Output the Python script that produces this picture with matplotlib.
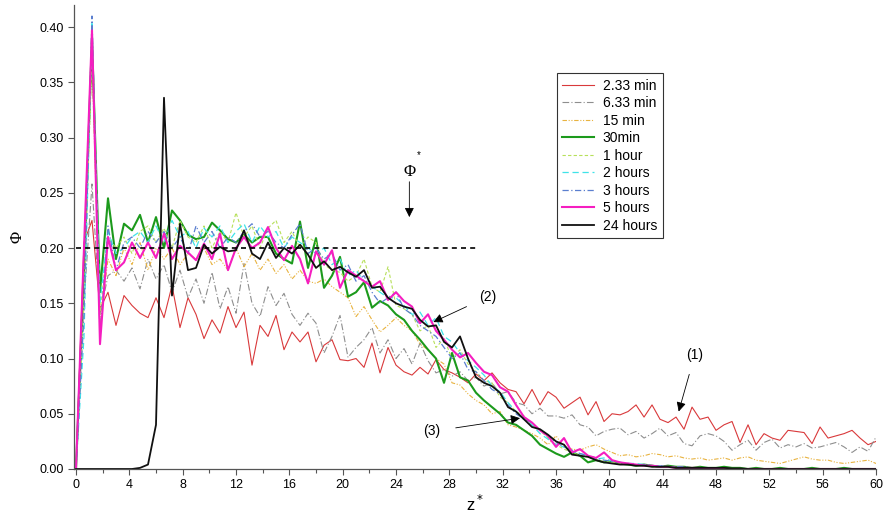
import numpy as np
import matplotlib
matplotlib.use('Agg')
import matplotlib.pyplot as plt
from matplotlib.ticker import MultipleLocator, FormatStrFormatter

plt.rcParams['font.family'] = ['Liberation Sans', 'DejaVu Sans']

# z* grid, step 0.6
z = np.linspace(0, 60, 101)

red = [0, 0.205, 0.225, 0.145, 0.16, 0.13, 0.157, 0.148, 0.141, 0.137,
       0.155, 0.137, 0.166, 0.128, 0.155, 0.14, 0.118, 0.135, 0.123, 0.147,
       0.128, 0.142, 0.094, 0.13, 0.12, 0.139, 0.108, 0.124, 0.115, 0.124,
       0.097, 0.112, 0.117, 0.099, 0.098, 0.1, 0.092, 0.114, 0.087, 0.11,
       0.094, 0.088, 0.085, 0.092, 0.086, 0.099, 0.09, 0.087, 0.083, 0.078,
       0.086, 0.08, 0.087, 0.078, 0.072, 0.07, 0.059, 0.072, 0.058, 0.07,
       0.065, 0.055, 0.06, 0.065, 0.049, 0.061, 0.043, 0.05, 0.049, 0.052,
       0.058, 0.047, 0.058, 0.045, 0.042, 0.047, 0.036, 0.056, 0.045, 0.047,
       0.035, 0.04, 0.043, 0.024, 0.04, 0.022, 0.032, 0.028, 0.026, 0.035,
       0.034, 0.033, 0.023, 0.038, 0.028, 0.03, 0.032, 0.035, 0.028, 0.022,
       0.025]

gray = [0, 0.15, 0.258, 0.14, 0.175, 0.18, 0.17, 0.182, 0.163, 0.19,
        0.172, 0.185, 0.16, 0.18, 0.155, 0.172, 0.15, 0.178, 0.145, 0.165,
        0.141, 0.186, 0.15, 0.138, 0.165, 0.148, 0.159, 0.14, 0.13, 0.141,
        0.132, 0.105, 0.12, 0.139, 0.101, 0.11, 0.117, 0.128, 0.105, 0.117,
        0.1, 0.109, 0.095, 0.114, 0.098, 0.087, 0.09, 0.084, 0.088, 0.08,
        0.083, 0.075, 0.078, 0.068, 0.07, 0.06, 0.058, 0.05, 0.055, 0.048,
        0.048, 0.046, 0.049, 0.04, 0.038, 0.03, 0.034, 0.036, 0.037, 0.031,
        0.034, 0.028, 0.032, 0.037, 0.03, 0.033, 0.023, 0.021, 0.03, 0.032,
        0.03, 0.025, 0.017, 0.022, 0.026, 0.017, 0.024, 0.027, 0.019, 0.022,
        0.02, 0.023, 0.019, 0.02, 0.022, 0.024, 0.02, 0.015, 0.02, 0.016,
        0.029]

orange = [0, 0.17, 0.37, 0.13, 0.19, 0.175, 0.2, 0.185, 0.205, 0.18,
          0.2, 0.19, 0.2, 0.185, 0.195, 0.19, 0.2, 0.185, 0.19, 0.18,
          0.2, 0.183, 0.195, 0.18, 0.19, 0.177, 0.185, 0.172, 0.18, 0.17,
          0.168, 0.172, 0.165, 0.16, 0.155, 0.138, 0.147, 0.135, 0.124, 0.13,
          0.137, 0.13, 0.125, 0.113, 0.108, 0.1, 0.095, 0.078, 0.076, 0.068,
          0.062, 0.058, 0.05, 0.052, 0.04, 0.038, 0.035, 0.032, 0.028, 0.022,
          0.03, 0.02, 0.018, 0.017, 0.02, 0.022, 0.018, 0.015, 0.012, 0.013,
          0.011, 0.012, 0.014, 0.013, 0.011, 0.012, 0.01, 0.009, 0.01, 0.008,
          0.009, 0.01, 0.008, 0.01, 0.011, 0.008, 0.007, 0.006, 0.005, 0.007,
          0.009, 0.011, 0.009, 0.008, 0.008, 0.006, 0.005, 0.006, 0.007, 0.008,
          0.005]

green = [0, 0.18, 0.39, 0.16, 0.245, 0.19, 0.222, 0.216, 0.23, 0.205,
         0.228, 0.2, 0.234, 0.225, 0.212, 0.208, 0.21, 0.223, 0.216, 0.208,
         0.205, 0.212, 0.205, 0.21, 0.21, 0.195, 0.19, 0.186, 0.224, 0.182,
         0.209, 0.164, 0.175, 0.192, 0.156, 0.16, 0.169, 0.146, 0.152, 0.148,
         0.14, 0.135, 0.125, 0.117, 0.108, 0.1, 0.078, 0.105, 0.083, 0.08,
         0.069, 0.062, 0.056, 0.05, 0.042, 0.04, 0.035, 0.03, 0.022, 0.018,
         0.014, 0.011, 0.015, 0.012, 0.006, 0.008, 0.006, 0.007, 0.005, 0.004,
         0.003, 0.004, 0.003, 0.002, 0.003, 0.002, 0.002, 0.001, 0.002, 0.001,
         0.001, 0.002, 0.001, 0.001, 0, 0.001, 0, 0, 0.001, 0,
         0, 0, 0.001, 0, 0, 0, 0.001, 0, 0, 0,
         0]

hour1 = [0, 0.15, 0.38, 0.14, 0.21, 0.2, 0.21, 0.195, 0.215, 0.22,
         0.205, 0.218, 0.2, 0.225, 0.21, 0.205, 0.22, 0.2, 0.215, 0.205,
         0.232, 0.21, 0.22, 0.2, 0.218, 0.225, 0.205, 0.215, 0.2, 0.21,
         0.205, 0.185, 0.18, 0.178, 0.17, 0.175, 0.19, 0.165, 0.16, 0.183,
         0.148, 0.145, 0.14, 0.125, 0.13, 0.11, 0.118, 0.1, 0.108, 0.095,
         0.088, 0.08, 0.078, 0.065, 0.06, 0.052, 0.048, 0.04, 0.035, 0.028,
         0.022, 0.018, 0.015, 0.012, 0.011, 0.008, 0.007, 0.006, 0.005, 0.004,
         0.003, 0.003, 0.002, 0.002, 0.002, 0.001, 0.001, 0.001, 0.001, 0.001,
         0, 0, 0, 0, 0, 0, 0, 0, 0, 0,
         0, 0, 0, 0, 0, 0, 0, 0, 0, 0,
         0]

hour2 = [0, 0.12, 0.405, 0.15, 0.215, 0.195, 0.2, 0.21, 0.215, 0.205,
         0.22, 0.205, 0.225, 0.21, 0.215, 0.2, 0.218, 0.21, 0.22, 0.205,
         0.215, 0.222, 0.205, 0.22, 0.21, 0.215, 0.2, 0.21, 0.205, 0.2,
         0.195, 0.2, 0.185, 0.19, 0.175, 0.18, 0.17, 0.165, 0.16, 0.155,
         0.155, 0.148, 0.14, 0.142, 0.13, 0.137, 0.12, 0.115, 0.105, 0.098,
         0.092, 0.085, 0.075, 0.07, 0.06, 0.052, 0.045, 0.04, 0.032, 0.027,
         0.022, 0.02, 0.016, 0.014, 0.012, 0.009, 0.01, 0.007, 0.006, 0.005,
         0.005, 0.004, 0.003, 0.003, 0.002, 0.002, 0.001, 0.001, 0.001, 0.001,
         0, 0, 0, 0, 0, 0, 0, 0, 0, 0,
         0, 0, 0, 0, 0, 0, 0, 0, 0, 0,
         0]

hour3 = [0, 0.14, 0.41, 0.12, 0.22, 0.18, 0.205, 0.21, 0.2, 0.215,
         0.205, 0.215, 0.2, 0.21, 0.195, 0.22, 0.205, 0.215, 0.2, 0.21,
         0.205, 0.215, 0.222, 0.21, 0.215, 0.205, 0.2, 0.212, 0.222, 0.195,
         0.2, 0.19, 0.195, 0.18, 0.185, 0.17, 0.175, 0.16, 0.15, 0.155,
         0.16, 0.145, 0.14, 0.13, 0.125, 0.12, 0.11, 0.1, 0.105, 0.09,
         0.088, 0.08, 0.072, 0.068, 0.058, 0.05, 0.045, 0.042, 0.035, 0.03,
         0.024, 0.02, 0.017, 0.014, 0.012, 0.01, 0.008, 0.007, 0.006, 0.005,
         0.004, 0.004, 0.003, 0.003, 0.002, 0.002, 0.002, 0.001, 0.001, 0.001,
         0, 0, 0, 0, 0, 0, 0, 0, 0, 0,
         0, 0, 0, 0, 0, 0, 0, 0, 0, 0,
         0]

hour5 = [0, 0.2, 0.397, 0.113, 0.21, 0.18, 0.187, 0.205, 0.191, 0.205,
         0.191, 0.213, 0.19, 0.202, 0.196, 0.189, 0.204, 0.19, 0.213, 0.18,
         0.2, 0.21, 0.2, 0.205, 0.219, 0.2, 0.189, 0.202, 0.19, 0.168,
         0.197, 0.185, 0.198, 0.164, 0.18, 0.175, 0.17, 0.165, 0.17, 0.153,
         0.16, 0.152, 0.147, 0.132, 0.14, 0.125, 0.117, 0.108, 0.101, 0.105,
         0.096, 0.088, 0.085, 0.074, 0.07, 0.058, 0.047, 0.042, 0.035, 0.03,
         0.02, 0.028, 0.015, 0.018, 0.012, 0.01, 0.015, 0.008, 0.006, 0.005,
         0.004, 0.003, 0.003, 0.002, 0.002, 0.001, 0.001, 0.001, 0.001, 0,
         0, 0, 0, 0, 0, 0, 0, 0, 0, 0,
         0, 0, 0, 0, 0, 0, 0, 0, 0, 0,
         0]

hour24 = [0, 0, 0, 0, 0, 0, 0, 0, 0.001, 0.004,
          0.04, 0.336, 0.157, 0.222, 0.18, 0.182, 0.203, 0.195, 0.201, 0.197,
          0.198, 0.216, 0.195, 0.19, 0.205, 0.191, 0.2, 0.195, 0.203, 0.194,
          0.182, 0.188, 0.18, 0.183, 0.178, 0.174, 0.18, 0.164, 0.165, 0.155,
          0.15, 0.147, 0.145, 0.135, 0.129, 0.13, 0.115, 0.11, 0.12, 0.1,
          0.083, 0.078, 0.075, 0.069, 0.056, 0.052, 0.045, 0.038, 0.036, 0.031,
          0.025, 0.022, 0.013, 0.012, 0.011, 0.008, 0.006, 0.005, 0.004, 0.004,
          0.003, 0.003, 0.002, 0.002, 0.002, 0.001, 0.001, 0.001, 0.001, 0.001,
          0.001, 0.001, 0.0005, 0.0005, 0, 0, 0, 0, 0, 0,
          0, 0, 0, 0, 0, 0, 0, 0, 0, 0,
          0]

labels = ['2.33 min', '6.33 min', '15 min', '30min', '1 hour',
          '2 hours', '3 hours', '5 hours', '24 hours']
series = [red, gray, orange, green, hour1, hour2, hour3, hour5, hour24]
colors = ['#d9393b', '#8e8e8e', '#e8b340', '#1c9a1c', '#b7e05a',
          '#3fe3e8', '#5b7fcf', '#f51ec0', '#111111']
styles = ['-', (0, (6, 2, 1, 2)), (0, (4, 1.5, 1, 1.5, 1, 1.5)), '-',
          (0, (3, 2)), (0, (5, 3)), (0, (5, 2, 1, 2)), '-', '-']
widths = [0.8, 0.8, 0.8, 1.5, 0.8, 0.9, 0.9, 1.5, 1.3]

fig = plt.figure(figsize=(8.84, 5.18), dpi=100)
ax = fig.add_axes([0.0837, 0.0946, 0.9073, 0.8958])

for y, lab, c, ls, lw in zip(series, labels, colors, styles, widths):
    ax.plot(z, y, color=c, linestyle=ls, linewidth=lw, label=lab)

# critical concentration
ax.plot([0, 30], [0.2, 0.2], color='black', linestyle=(0, (3, 2.5)), linewidth=1.2)

ax.set_xlim(-0.15, 60)
ax.set_ylim(0, 0.42)
ax.xaxis.set_major_locator(MultipleLocator(4))
ax.xaxis.set_minor_locator(MultipleLocator(2))
ax.yaxis.set_major_locator(MultipleLocator(0.05))
ax.yaxis.set_major_formatter(FormatStrFormatter('%.2f'))
ax.tick_params(axis='both', which='major', direction='out', length=4,
               width=0.8, color='#555555', labelsize=9)
ax.tick_params(axis='x', which='minor', direction='out', length=3,
               width=0.8, color='#555555')
for s in ['top', 'right']:
    ax.spines[s].set_visible(False)
for s in ['left', 'bottom']:
    ax.spines[s].set_color('#555555')
    ax.spines[s].set_linewidth(0.9)

ax.set_xlabel(r'z$^*$', fontsize=12, labelpad=2)
ax.set_ylabel('Φ', fontsize=12, family=['Liberation Serif', 'DejaVu Serif'], labelpad=10)

arrow = dict(arrowstyle='-|>', color='black', lw=0.6, mutation_scale=14,
             shrinkA=0, shrinkB=0)
ax.annotate('', xy=(25.0, 0.228), xytext=(25.0, 0.26), arrowprops=arrow)
ax.text(25.0, 0.262, 'Φ', fontsize=12, ha='center', va='bottom',
        family=['Liberation Serif', 'DejaVu Serif'])
ax.text(25.55, 0.284, '*', fontsize=7, ha='left', va='center')
ax.annotate('(2)', xy=(26.8, 0.133), xytext=(30.9, 0.156), fontsize=10,
            ha='center', va='center', arrowprops=dict(arrow, shrinkA=8))
ax.annotate('(3)', xy=(33.3, 0.046), xytext=(26.7, 0.034), fontsize=10,
            ha='center', va='center', arrowprops=dict(arrow, shrinkA=9))
ax.annotate('(1)', xy=(45.2, 0.052), xytext=(46.4, 0.103), fontsize=10,
            ha='center', va='center', arrowprops=dict(arrow, shrinkA=7))

leg = ax.legend(loc='upper left', bbox_to_anchor=(0.602, 0.853), fontsize=10,
                frameon=True, fancybox=False, edgecolor='black',
                handlelength=2.3, labelspacing=0.25, borderaxespad=0,
                borderpad=0.4, handletextpad=0.6)
leg.get_frame().set_linewidth(0.8)

fig.savefig('out.png', dpi=100)
